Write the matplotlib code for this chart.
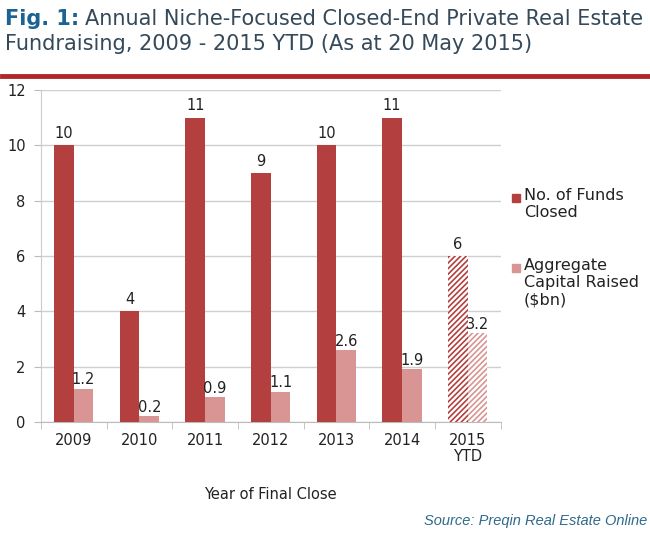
import matplotlib
matplotlib.use("Agg")
import matplotlib.pyplot as plt
import numpy as np
from matplotlib.patches import Rectangle

categories = ["2009", "2010", "2011", "2012", "2013", "2014", "2015\nYTD"]
funds_closed = [10, 4, 11, 9, 10, 11, 6]
capital_raised = [1.2, 0.2, 0.9, 1.1, 2.6, 1.9, 3.2]
fund_labels = ["10", "4", "11", "9", "10", "11", "6"]
capital_labels = ["1.2", "0.2", "0.9", "1.1", "2.6", "1.9", "3.2"]
yticks = [0, 2, 4, 6, 8, 10, 12]
series_names = ["No. of Funds\nClosed", "Aggregate\nCapital Raised\n($bn)"]

dark = "#B3403F"
light = "#D99494"
plt.rcParams['hatch.linewidth'] = 1.2
plt.rcParams['font.family'] = ["DejaVu Sans"]

W, H = 650, 534
fig = plt.figure(figsize=(6.5, 5.34), dpi=100)
ax = fig.add_axes([0.063, 0.2097, 0.707, 0.6218])

x = np.arange(len(categories))
w = 0.3
n = len(categories)
for i in range(n):
    ytd = i == n - 1
    if ytd:
        ax.bar(x[i] - w / 2, funds_closed[i], w, facecolor="white", edgecolor=dark,
               hatch="//////", linewidth=0, zorder=3)
        ax.bar(x[i] + w / 2, capital_raised[i], w, facecolor="white", edgecolor=light,
               hatch="//////", linewidth=0, zorder=3)
    else:
        ax.bar(x[i] - w / 2, funds_closed[i], w, color=dark, zorder=3)
        ax.bar(x[i] + w / 2, capital_raised[i], w, color=light, zorder=3)
    ax.text(x[i] - w / 2, funds_closed[i] + 0.15, fund_labels[i], ha="center", va="bottom",
            fontsize=10.5, color="#222222", zorder=4)
    ax.text(x[i] + w / 2, capital_raised[i] + 0.05, capital_labels[i], ha="center", va="bottom",
            fontsize=10.5, color="#222222", zorder=4)

ax.set_xlim(-0.5, n - 0.5)
ax.set_ylim(0, 12)
ax.set_yticks(yticks)
ax.set_yticklabels([str(t) for t in yticks], fontsize=10.5, color="#222222")
ax.yaxis.grid(True, color="#CFCFCF", linewidth=1.0, zorder=0)
ax.set_axisbelow(True)
ax.set_xticks(x)
ax.set_xticklabels(categories, fontsize=10.5, color="#222222", linespacing=1.1)
ax.set_xticks(np.arange(-0.5, n, 1.0), minor=True)
ax.tick_params(axis="x", which="major", length=0, pad=8)
ax.tick_params(axis="x", which="minor", length=5, color="#BBBBBB", direction="out")
ax.tick_params(axis="y", length=5, color="#BBBBBB", direction="out", pad=6)
for s in ["top", "right"]:
    ax.spines[s].set_visible(False)
ax.spines["left"].set_color("#CCCCCC")
ax.spines["bottom"].set_color("#BBBBBB")
ax.set_xlabel("Year of Final Close", fontsize=10.5, color="#222222", labelpad=16)

# legend (manual, marker aligned with first line of each entry)
leg_colors = [dark, light]
leg_y = [198, 268]
for name, col, yy in zip(series_names, leg_colors, leg_y):
    s = 8
    fig.patches.append(Rectangle(((516 - s / 2) / W, 1 - (yy + s / 2) / H), s / W, s / H,
                                 transform=fig.transFigure, facecolor=col, edgecolor=col))
    fig.text(524 / W, 1 - (yy - 10) / H, name, fontsize=11.5, color="#222222",
             va="top", ha="left", linespacing=1.18)

fig.text(0.008, 0.965, "Fig. 1:", fontsize=15, color="#1B6392", fontweight="bold", va="center")
fig.text(0.131, 0.965, "Annual Niche-Focused Closed-End Private Real Estate",
         fontsize=15, color="#34495A", va="center")
fig.text(0.008, 0.918, "Fundraising, 2009 - 2015 YTD (As at 20 May 2015)",
         fontsize=15, color="#34495A", va="center")
fig.add_artist(plt.Line2D([0.003, 0.997], [0.858, 0.858], color="#B0282A", linewidth=3.5))
fig.text(0.995, 0.024, "Source: Preqin Real Estate Online", fontsize=10.5, color="#2E6A8C",
         style="italic", ha="right", va="center", family=["Liberation Sans", "DejaVu Sans"])

fig.savefig("out.png", dpi=100)
